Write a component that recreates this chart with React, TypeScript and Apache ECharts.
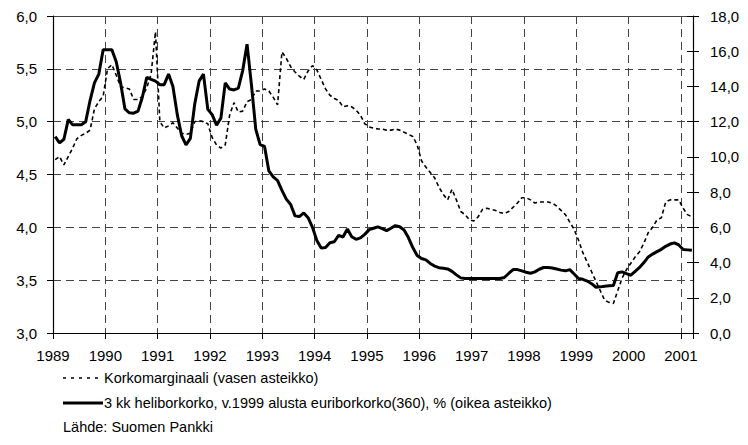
import React, { useEffect, useRef } from "react";
import * as echarts from "echarts";

// Monthly observations, January 1989 – March 2001 (plotted at mid-month)
const startYear = 1989;
const yearTicks = [1989, 1990, 1991, 1992, 1993, 1994, 1995, 1996, 1997, 1998, 1999, 2000, 2001];

// Korkomarginaali (left axis), one row per year
const margin1989 = [4.64, 4.67, 4.59, 4.67, 4.75, 4.84, 4.87, 4.89, 4.92, 5.12, 5.19, 5.24];
const margin1990 = [5.5, 5.54, 5.44, 5.33, 5.32, 5.31, 5.21, 5.21, 5.24, 5.32, 5.45, 5.85];
const margin1991 = [5.0, 4.94, 4.96, 4.99, 4.94, 4.89, 4.88, 4.89, 5.0, 5.01, 5.0, 4.98];
const margin1992 = [4.85, 4.78, 4.75, 4.78, 5.06, 5.18, 5.09, 5.1, 5.19, 5.21, 5.29, 5.29];
const margin1993 = [5.31, 5.29, 5.23, 5.16, 5.66, 5.6, 5.52, 5.47, 5.43, 5.4, 5.48, 5.53];
const margin1994 = [5.49, 5.4, 5.31, 5.25, 5.22, 5.2, 5.14, 5.15, 5.14, 5.11, 5.06, 4.98];
const margin1995 = [4.95, 4.94, 4.93, 4.93, 4.92, 4.92, 4.93, 4.92, 4.9, 4.88, 4.86, 4.78];
const margin1996 = [4.63, 4.57, 4.52, 4.47, 4.38, 4.31, 4.26, 4.36, 4.26, 4.15, 4.12, 4.07];
const margin1997 = [4.06, 4.1, 4.17, 4.18, 4.17, 4.16, 4.14, 4.13, 4.15, 4.19, 4.23, 4.28];
const margin1998 = [4.28, 4.26, 4.23, 4.24, 4.24, 4.24, 4.23, 4.2, 4.16, 4.12, 4.05, 3.98];
const margin1999 = [3.88, 3.76, 3.67, 3.58, 3.49, 3.4, 3.31, 3.29, 3.28, 3.4, 3.52, 3.6];
const margin2000 = [3.66, 3.72, 3.77, 3.85, 3.95, 4.0, 4.07, 4.09, 4.24, 4.26, 4.26, 4.26];
const margin2001 = [4.18, 4.12, 4.1];

// 3 kk heliborkorko / euriborkorko (right axis), one row per year
const rate1989 = [11.15, 10.8, 11.0, 12.12, 11.82, 11.82, 11.82, 12.0, 13.2, 14.2, 14.7, 16.08];
const rate1990 = [16.08, 16.08, 15.4, 14.2, 12.72, 12.5, 12.48, 12.6, 13.4, 14.52, 14.4, 14.3];
const rate1991 = [14.1, 14.1, 14.7, 14.0, 12.4, 11.2, 10.68, 11.05, 13.0, 14.3, 14.7, 12.7];
const rate1992 = [12.4, 11.8, 12.2, 14.2, 13.85, 13.8, 13.9, 14.9, 16.4, 14.1, 11.56, 10.7];
const rate1993 = [10.6, 9.2, 8.86, 8.65, 8.1, 7.6, 7.3, 6.65, 6.61, 6.82, 6.55, 6.0];
const rate1994 = [5.25, 4.82, 4.85, 5.12, 5.18, 5.54, 5.45, 5.9, 5.47, 5.32, 5.4, 5.6];
const rate1995 = [5.87, 5.95, 6.03, 5.93, 5.81, 5.95, 6.1, 6.03, 5.85, 5.42, 4.85, 4.4];
const rate1996 = [4.23, 4.15, 3.95, 3.8, 3.71, 3.68, 3.64, 3.5, 3.3, 3.13, 3.09, 3.09];
const rate1997 = [3.09, 3.09, 3.09, 3.09, 3.09, 3.09, 3.09, 3.15, 3.38, 3.6, 3.6, 3.53];
const rate1998 = [3.45, 3.39, 3.47, 3.62, 3.72, 3.72, 3.69, 3.63, 3.57, 3.53, 3.6, 3.35];
const rate1999 = [3.09, 3.05, 2.95, 2.8, 2.6, 2.62, 2.66, 2.68, 2.7, 3.42, 3.47, 3.37];
const rate2000 = [3.28, 3.5, 3.72, 4.0, 4.32, 4.48, 4.62, 4.75, 4.92, 5.05, 5.12, 5.0];
const rate2001 = [4.74, 4.72, 4.7];

const korkomarginaali = [
  ...margin1989, ...margin1990, ...margin1991, ...margin1992, ...margin1993, ...margin1994, ...margin1995,
  ...margin1996, ...margin1997, ...margin1998, ...margin1999, ...margin2000, ...margin2001,
];
const heliborkorko = [
  ...rate1989, ...rate1990, ...rate1991, ...rate1992, ...rate1993, ...rate1994, ...rate1995,
  ...rate1996, ...rate1997, ...rate1998, ...rate1999, ...rate2000, ...rate2001,
];

const nameMargin = "Korkomarginaali (vasen asteikko)";
const nameRate = "3 kk heliborkorko, v.1999 alusta euriborkorko(360), % (oikea asteikko)";
const sourceText = "Lähde: Suomen Pankki";

// month index -> decimal year at mid-month
const monthX = (i: number) => startYear + (i + 0.5) / 12;

const FONT = "'Liberation Sans', Arial, sans-serif";
const comma = (v: number) => v.toFixed(1).replace(".", ",");

export default function App() {
  const ref = useRef<HTMLDivElement>(null);

  useEffect(() => {
    document.body.style.margin = "0";
    if (!ref.current) return;
    const chart = echarts.init(ref.current, undefined, { renderer: "svg" });

    chart.setOption({
      animation: false,
      backgroundColor: "#fff",
      textStyle: { fontFamily: FONT },
      grid: {
        left: 53,
        right: 55,
        top: 16,
        bottom: 112,
      },
      graphic: [
        // top border of the plot area
        {
          type: "line",
          shape: { x1: 53, y1: 16.5, x2: 693, y2: 16.5 },
          style: { stroke: "#444", lineWidth: 1 },
          silent: true,
        },
        // legend
        {
          type: "line",
          shape: { x1: 63, y1: 378, x2: 101, y2: 378 },
          style: { stroke: "#000", lineWidth: 1.6, lineDash: [3, 5] },
          silent: true,
        },
        {
          type: "text",
          left: 104,
          top: 370,
          style: { text: nameMargin, font: `14.5px ${FONT}`, fill: "#000" },
          silent: true,
        },
        {
          type: "line",
          shape: { x1: 63, y1: 403, x2: 103, y2: 403 },
          style: { stroke: "#000", lineWidth: 3 },
          silent: true,
        },
        {
          type: "text",
          left: 104,
          top: 395,
          style: { text: nameRate, font: `14.5px ${FONT}`, fill: "#000" },
          silent: true,
        },
        {
          type: "text",
          left: 63,
          top: 419,
          style: { text: sourceText, font: `14.5px ${FONT}`, fill: "#000" },
          silent: true,
        },
      ],
      xAxis: {
        type: "value",
        min: startYear,
        max: 2001.23,
        interval: 1,
        axisLine: { show: true, lineStyle: { color: "#000", width: 1.2 } },
        axisTick: { show: true, length: 6, lineStyle: { color: "#000" } },
        axisLabel: {
          margin: 15,
          color: "#000",
          fontSize: 15,
          fontFamily: FONT,
          formatter: (v: number) => (yearTicks.includes(v) ? String(v) : ""),
        },
        splitLine: { show: true, lineStyle: { color: "#444", width: 1, type: [8, 5] } },
      },
      yAxis: [
        {
          type: "value",
          position: "left",
          min: 3,
          max: 6,
          interval: 0.5,
          axisLine: { show: true, lineStyle: { color: "#000", width: 1.2 } },
          axisTick: { show: true, length: 6, lineStyle: { color: "#000" } },
          axisLabel: { margin: 16, color: "#000", fontSize: 15, fontFamily: FONT, formatter: comma },
          splitLine: { show: true, lineStyle: { color: "#444", width: 1, type: [8, 5] } },
        },
        {
          type: "value",
          position: "right",
          min: 0,
          max: 18,
          interval: 2,
          axisLine: { show: true, lineStyle: { color: "#000", width: 1.2 } },
          axisTick: { show: true, length: 6, lineStyle: { color: "#000" } },
          axisLabel: { margin: 17, color: "#000", fontSize: 15, fontFamily: FONT, formatter: comma },
          splitLine: { show: false },
        },
        {
          type: "value",
          position: "right",
          min: 0,
          max: 18,
          interval: 2,
          axisLine: { show: false },
          axisTick: { show: true, inside: true, length: 6, lineStyle: { color: "#000" } },
          axisLabel: { show: false },
          splitLine: { show: false },
        },
      ],
      series: [
        {
          name: nameMargin,
          type: "line",
          yAxisIndex: 0,
          symbol: "none",
          showSymbol: false,
          lineStyle: { color: "#000", width: 1.6, type: [4, 3] },
          itemStyle: { color: "#000" },
          data: korkomarginaali.map((v, i) => [monthX(i), v]),
          z: 3,
        },
        {
          name: nameRate,
          type: "line",
          yAxisIndex: 1,
          symbol: "none",
          showSymbol: false,
          lineStyle: { color: "#000", width: 3 },
          itemStyle: { color: "#000" },
          data: heliborkorko.map((v, i) => [monthX(i), v]),
          z: 4,
        },
      ],
    });

    return () => chart.dispose();
  }, []);

  return <div ref={ref} style={{ width: 748, height: 445 }} />;
}
